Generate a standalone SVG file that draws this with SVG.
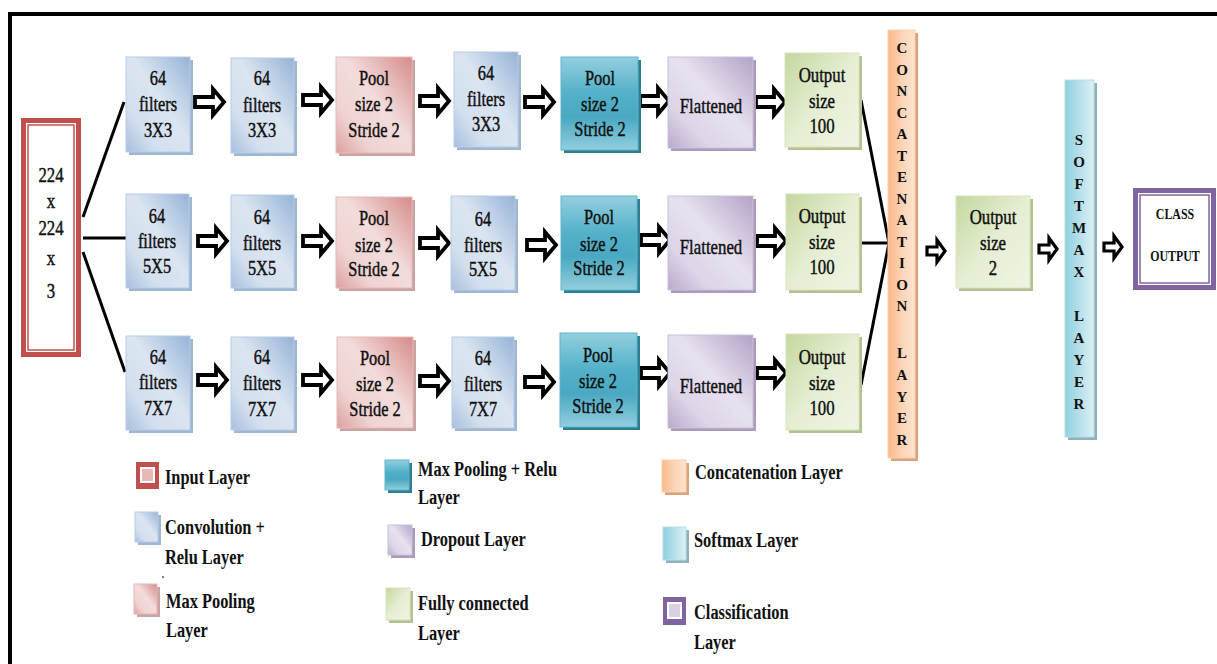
<svg xmlns="http://www.w3.org/2000/svg" xmlns:xlink="http://www.w3.org/1999/xlink" width="1217" height="664" viewBox="0 0 1217 664">
  <style>
    .t { font-family: "Liberation Serif", "Times New Roman", serif; font-size: 21px; fill: #111; stroke: #111; stroke-width: 0.45px; text-anchor: middle; }
    .v { font-family: "Liberation Serif", "Times New Roman", serif; font-size: 15px; font-weight: bold; fill: #111; text-anchor: middle; }
    .c { font-family: "Liberation Serif", "Times New Roman", serif; font-size: 14px; font-weight: bold; fill: #111; text-anchor: middle; }
    .lg { font-family: "Liberation Serif", "Times New Roman", serif; font-size: 20px; font-weight: bold; fill: #111; }
    .arr { fill: #fff; stroke: #000; stroke-width: 3.8; stroke-linejoin: miter; }
    .arrs { fill: #fff; stroke: #000; stroke-width: 3.2; stroke-linejoin: miter; }
    .wire { stroke: #000; stroke-width: 3; fill: none; }
    .conv { fill: url(#gConv); stroke: #b8cce4; stroke-width: 1; }
    .pool { fill: url(#gPool); stroke: #e6b9b8; stroke-width: 1; }
    .teal { fill: url(#gTeal); stroke: #5fb6cc; stroke-width: 1; }
    .drop { fill: url(#gDrop); stroke: #ccc0da; stroke-width: 1; }
    .fc { fill: url(#gFc); stroke: #d7e4bd; stroke-width: 1; }
    .cat { fill: url(#gCat); stroke: #fbd0ad; stroke-width: 1; }
    .soft { fill: url(#gSoft); stroke: #b7dde8; stroke-width: 1; }
    .sh-conv { fill: #9fb5d2; }
    .sh-pool { fill: #c9a3a2; }
    .sh-teal { fill: #2e7d93; }
    .sh-drop { fill: #a99bb9; }
    .sh-fc { fill: #b3c192; }
    .sh-cat { fill: #d9a47c; }
    .sh-soft { fill: #8fb3bd; }
  </style>
  <defs>
    <linearGradient id="gConv" x1="1" y1="0" x2="0" y2="1">
      <stop offset="0" stop-color="#95b3d7"/>
      <stop offset="0.45" stop-color="#dbe5f1"/>
      <stop offset="0.75" stop-color="#d3dfee"/>
      <stop offset="1" stop-color="#a7bfde"/>
    </linearGradient>
    <linearGradient id="gPool" x1="1" y1="0" x2="0" y2="1">
      <stop offset="0" stop-color="#d58b89"/>
      <stop offset="0.45" stop-color="#f2dcdb"/>
      <stop offset="0.75" stop-color="#efd3d2"/>
      <stop offset="1" stop-color="#dba09f"/>
    </linearGradient>
    <linearGradient id="gTeal" x1="0" y1="0" x2="0" y2="1">
      <stop offset="0" stop-color="#93cfdf"/>
      <stop offset="0.4" stop-color="#52b0c8"/>
      <stop offset="0.65" stop-color="#4aa9c2"/>
      <stop offset="1" stop-color="#92cedd"/>
    </linearGradient>
    <linearGradient id="gDrop" x1="1" y1="0" x2="0" y2="1">
      <stop offset="0" stop-color="#b3a2c7"/>
      <stop offset="0.45" stop-color="#e7e1ef"/>
      <stop offset="0.75" stop-color="#ddd5e8"/>
      <stop offset="1" stop-color="#b9a9cc"/>
    </linearGradient>
    <linearGradient id="gFc" x1="0" y1="0" x2="1" y2="1">
      <stop offset="0" stop-color="#c4d79e"/>
      <stop offset="0.5" stop-color="#e5eed3"/>
      <stop offset="1" stop-color="#eef4e3"/>
    </linearGradient>
    <linearGradient id="gCat" x1="0" y1="0" x2="1" y2="0">
      <stop offset="0" stop-color="#f9b98a"/>
      <stop offset="0.55" stop-color="#fcd6b8"/>
      <stop offset="1" stop-color="#fde3cf"/>
    </linearGradient>
    <linearGradient id="gSoft" x1="0" y1="0" x2="1" y2="0">
      <stop offset="0" stop-color="#8fcfdf"/>
      <stop offset="1" stop-color="#ddf0f5"/>
    </linearGradient>
    <path id="arr" class="arr" d="M2,-5 H20 V-13 L31,0 L20,13 V5 H2 Z"/>
    <path id="arrs" class="arrs" d="M2,-4 H12 V-11 L20,0 L12,11 V4 H2 Z"/>
  </defs>

  <rect width="1217" height="664" fill="#fff"/>

  <!-- outer frame -->
  <g id="frame" stroke="#000" stroke-width="4">
    <line x1="8" y1="14" x2="1217" y2="14"/>
    <line x1="10" y1="12" x2="10" y2="664"/>
  </g>

  <!-- connectors: fan-out wires, fan-in wires and block arrows -->
  <g id="connectors">
    <line class="wire" x1="83" y1="217" x2="124" y2="102"/>
    <line class="wire" x1="83" y1="238" x2="126" y2="238" stroke-width="4"/>
    <line class="wire" x1="83" y1="252" x2="125" y2="372"/>
    <line class="wire" x1="861" y1="100" x2="889" y2="243"/>
    <line class="wire" x1="859" y1="243" x2="889" y2="243" stroke-width="4"/>
    <line class="wire" x1="861" y1="385" x2="889" y2="243"/>

    <use href="#arr" transform="translate(193 102)"/>
    <use href="#arr" transform="translate(301 100)"/>
    <use href="#arr" transform="translate(418 101)"/>
    <use href="#arr" transform="translate(523 102)"/>
    <use href="#arr" transform="translate(638 101)"/>
    <use href="#arr" transform="translate(754 102)"/>

    <use href="#arr" transform="translate(196 241)"/>
    <use href="#arr" transform="translate(301 241)"/>
    <use href="#arr" transform="translate(418 243)"/>
    <use href="#arr" transform="translate(525 245)"/>
    <use href="#arr" transform="translate(639 240)"/>
    <use href="#arr" transform="translate(755 241)"/>

    <use href="#arr" transform="translate(196 380)"/>
    <use href="#arr" transform="translate(301 380)"/>
    <use href="#arr" transform="translate(418 381)"/>
    <use href="#arr" transform="translate(523 382)"/>
    <use href="#arr" transform="translate(639 373)"/>
    <use href="#arr" transform="translate(755 373)"/>

    <use href="#arrs" transform="translate(925 251)"/>
    <use href="#arrs" transform="translate(1037 249)"/>
    <use href="#arrs" transform="translate(1102 247)"/>
  </g>

  <!-- input layer -->
  <g id="input">
    <rect x="21" y="118" width="60" height="239" fill="#c0504d"/>
    <rect x="26" y="123" width="50" height="229" fill="#fff"/>
    <rect x="28" y="125" width="46" height="225" fill="#fff" stroke="#c0504d" stroke-width="1.5"/>
    <text class="t" transform="translate(51 182) scale(.8 1)">224</text>
    <text class="t" transform="translate(51 208) scale(.8 1)">x</text>
    <text class="t" transform="translate(51 235) scale(.8 1)">224</text>
    <text class="t" transform="translate(51 265) scale(.8 1)">x</text>
    <text class="t" transform="translate(51 298) scale(.8 1)">3</text>
  </g>

  <!-- branch 1: 3x3 -->
  <g id="conv1a">
    <rect class="sh-conv" x="129" y="60" width="64" height="95"/>
    <rect class="conv" x="126" y="57" width="64" height="95"/>
    <text class="t" transform="translate(158 85) scale(.78 1)">64</text>
    <text class="t" transform="translate(158 111) scale(.78 1)">filters</text>
    <text class="t" transform="translate(158 137) scale(.78 1)">3X3</text>
  </g>
  <g id="conv1b">
    <rect class="sh-conv" x="234" y="61" width="63" height="95"/>
    <rect class="conv" x="231" y="58" width="63" height="95"/>
    <text class="t" transform="translate(262 85) scale(.78 1)">64</text>
    <text class="t" transform="translate(262 112) scale(.78 1)">filters</text>
    <text class="t" transform="translate(262 137) scale(.78 1)">3X3</text>
  </g>
  <g id="pool1">
    <rect class="sh-pool" x="339" y="60" width="76" height="96"/>
    <rect class="pool" x="336" y="57" width="76" height="96"/>
    <text class="t" transform="translate(374 85) scale(.78 1)">Pool</text>
    <text class="t" transform="translate(374 111) scale(.78 1)">size 2</text>
    <text class="t" transform="translate(374 137) scale(.78 1)">Stride 2</text>
  </g>
  <g id="conv1c">
    <rect class="sh-conv" x="457" y="55" width="64" height="95"/>
    <rect class="conv" x="454" y="52" width="64" height="95"/>
    <text class="t" transform="translate(486 80) scale(.78 1)">64</text>
    <text class="t" transform="translate(486 106) scale(.78 1)">filters</text>
    <text class="t" transform="translate(486 131) scale(.78 1)">3X3</text>
  </g>
  <g id="relupool1">
    <rect class="sh-teal" x="564" y="60" width="77" height="93"/>
    <rect class="teal" x="561" y="57" width="77" height="93"/>
    <text class="t" transform="translate(600 85) scale(.78 1)">Pool</text>
    <text class="t" transform="translate(600 111) scale(.78 1)">size 2</text>
    <text class="t" transform="translate(600 136) scale(.78 1)">Stride 2</text>
  </g>
  <g id="flat1">
    <rect class="sh-drop" x="671" y="60" width="85" height="91"/>
    <rect class="drop" x="668" y="57" width="85" height="91"/>
    <text class="t" transform="translate(711 113) scale(.8 1)">Flattened</text>
  </g>
  <g id="fc1">
    <rect class="sh-fc" x="788" y="56" width="74" height="94"/>
    <rect class="fc" x="785" y="53" width="74" height="94"/>
    <text class="t" transform="translate(822 82) scale(.8 1)">Output</text>
    <text class="t" transform="translate(822 108) scale(.8 1)">size</text>
    <text class="t" transform="translate(822 133) scale(.8 1)">100</text>
  </g>

  <!-- branch 2: 5x5 -->
  <g id="conv2a">
    <rect class="sh-conv" x="129" y="197" width="63" height="94"/>
    <rect class="conv" x="126" y="194" width="63" height="94"/>
    <text class="t" transform="translate(157 223) scale(.78 1)">64</text>
    <text class="t" transform="translate(157 248) scale(.78 1)">filters</text>
    <text class="t" transform="translate(157 273) scale(.78 1)">5X5</text>
  </g>
  <g id="conv2b">
    <rect class="sh-conv" x="234" y="198" width="63" height="93"/>
    <rect class="conv" x="231" y="195" width="63" height="93"/>
    <text class="t" transform="translate(262 224) scale(.78 1)">64</text>
    <text class="t" transform="translate(262 250) scale(.78 1)">filters</text>
    <text class="t" transform="translate(262 275) scale(.78 1)">5X5</text>
  </g>
  <g id="pool2">
    <rect class="sh-pool" x="339" y="200" width="76" height="91"/>
    <rect class="pool" x="336" y="197" width="76" height="91"/>
    <text class="t" transform="translate(374 225) scale(.78 1)">Pool</text>
    <text class="t" transform="translate(374 252) scale(.78 1)">size 2</text>
    <text class="t" transform="translate(374 276) scale(.78 1)">Stride 2</text>
  </g>
  <g id="conv2c">
    <rect class="sh-conv" x="454" y="199" width="64" height="94"/>
    <rect class="conv" x="451" y="196" width="64" height="94"/>
    <text class="t" transform="translate(483 226) scale(.78 1)">64</text>
    <text class="t" transform="translate(483 252) scale(.78 1)">filters</text>
    <text class="t" transform="translate(483 276) scale(.78 1)">5X5</text>
  </g>
  <g id="relupool2">
    <rect class="sh-teal" x="564" y="199" width="76" height="94"/>
    <rect class="teal" x="561" y="196" width="76" height="94"/>
    <text class="t" transform="translate(599 224) scale(.78 1)">Pool</text>
    <text class="t" transform="translate(599 251) scale(.78 1)">size 2</text>
    <text class="t" transform="translate(599 275) scale(.78 1)">Stride 2</text>
  </g>
  <g id="flat2">
    <rect class="sh-drop" x="671" y="199" width="85" height="94"/>
    <rect class="drop" x="668" y="196" width="85" height="94"/>
    <text class="t" transform="translate(711 254) scale(.8 1)">Flattened</text>
  </g>
  <g id="fc2">
    <rect class="sh-fc" x="789" y="197" width="73" height="96"/>
    <rect class="fc" x="786" y="194" width="73" height="96"/>
    <text class="t" transform="translate(822 223) scale(.8 1)">Output</text>
    <text class="t" transform="translate(822 249) scale(.8 1)">size</text>
    <text class="t" transform="translate(822 274) scale(.8 1)">100</text>
  </g>

  <!-- branch 3: 7x7 -->
  <g id="conv3a">
    <rect class="sh-conv" x="129" y="339" width="64" height="94"/>
    <rect class="conv" x="126" y="336" width="64" height="94"/>
    <text class="t" transform="translate(158 364) scale(.78 1)">64</text>
    <text class="t" transform="translate(158 389) scale(.78 1)">filters</text>
    <text class="t" transform="translate(158 415) scale(.78 1)">7X7</text>
  </g>
  <g id="conv3b">
    <rect class="sh-conv" x="234" y="340" width="63" height="93"/>
    <rect class="conv" x="231" y="337" width="63" height="93"/>
    <text class="t" transform="translate(262 364) scale(.78 1)">64</text>
    <text class="t" transform="translate(262 390) scale(.78 1)">filters</text>
    <text class="t" transform="translate(262 416) scale(.78 1)">7X7</text>
  </g>
  <g id="pool3">
    <rect class="sh-pool" x="340" y="340" width="76" height="91"/>
    <rect class="pool" x="337" y="337" width="76" height="91"/>
    <text class="t" transform="translate(375 365) scale(.78 1)">Pool</text>
    <text class="t" transform="translate(375 391) scale(.78 1)">size 2</text>
    <text class="t" transform="translate(375 416) scale(.78 1)">Stride 2</text>
  </g>
  <g id="conv3c">
    <rect class="sh-conv" x="455" y="340" width="62" height="91"/>
    <rect class="conv" x="452" y="337" width="62" height="91"/>
    <text class="t" transform="translate(483 365) scale(.78 1)">64</text>
    <text class="t" transform="translate(483 391) scale(.78 1)">filters</text>
    <text class="t" transform="translate(483 416) scale(.78 1)">7X7</text>
  </g>
  <g id="relupool3">
    <rect class="sh-teal" x="563" y="336" width="77" height="94"/>
    <rect class="teal" x="560" y="333" width="77" height="94"/>
    <text class="t" transform="translate(598 362) scale(.78 1)">Pool</text>
    <text class="t" transform="translate(598 388) scale(.78 1)">size 2</text>
    <text class="t" transform="translate(598 413) scale(.78 1)">Stride 2</text>
  </g>
  <g id="flat3">
    <rect class="sh-drop" x="671" y="338" width="85" height="93"/>
    <rect class="drop" x="668" y="335" width="85" height="93"/>
    <text class="t" transform="translate(711 393) scale(.8 1)">Flattened</text>
  </g>
  <g id="fc3">
    <rect class="sh-fc" x="789" y="337" width="73" height="96"/>
    <rect class="fc" x="786" y="334" width="73" height="96"/>
    <text class="t" transform="translate(822 364) scale(.8 1)">Output</text>
    <text class="t" transform="translate(822 390) scale(.8 1)">size</text>
    <text class="t" transform="translate(822 415) scale(.8 1)">100</text>
  </g>

  <!-- concatenation layer -->
  <g id="concat">
    <rect class="sh-cat" x="891" y="33" width="27" height="428"/>
    <rect class="cat" x="888" y="30" width="27" height="428"/>
    <g transform="translate(902 0)">
      <text class="v" y="53">C</text>
      <text class="v" y="74.5">O</text>
      <text class="v" y="96">N</text>
      <text class="v" y="117.5">C</text>
      <text class="v" y="139">A</text>
      <text class="v" y="160.5">T</text>
      <text class="v" y="182">E</text>
      <text class="v" y="203.5">N</text>
      <text class="v" y="225">A</text>
      <text class="v" y="246.5">T</text>
      <text class="v" y="268">I</text>
      <text class="v" y="289.5">O</text>
      <text class="v" y="311">N</text>
      <text class="v" y="358">L</text>
      <text class="v" y="380">A</text>
      <text class="v" y="402">Y</text>
      <text class="v" y="423">E</text>
      <text class="v" y="445">R</text>
    </g>
  </g>

  <!-- final fully connected layer -->
  <g id="fc-out">
    <rect class="sh-fc" x="959" y="199" width="74" height="92"/>
    <rect class="fc" x="956" y="196" width="74" height="92"/>
    <text class="t" transform="translate(993 224) scale(.8 1)">Output</text>
    <text class="t" transform="translate(993 250) scale(.8 1)">size</text>
    <text class="t" transform="translate(993 275) scale(.8 1)">2</text>
  </g>

  <!-- softmax layer -->
  <g id="softmax">
    <rect class="sh-soft" x="1068" y="83" width="29" height="357"/>
    <rect class="soft" x="1065" y="80" width="29" height="357"/>
    <g transform="translate(1079 0)">
      <text class="v" y="145">S</text>
      <text class="v" y="167">O</text>
      <text class="v" y="189">F</text>
      <text class="v" y="211">T</text>
      <text class="v" y="233">M</text>
      <text class="v" y="255">A</text>
      <text class="v" y="277">X</text>
      <text class="v" y="321">L</text>
      <text class="v" y="343">A</text>
      <text class="v" y="365">Y</text>
      <text class="v" y="387">E</text>
      <text class="v" y="409">R</text>
    </g>
  </g>

  <!-- classification output -->
  <g id="class-output">
    <rect x="1133" y="188" width="83" height="102" fill="#8064a2"/>
    <rect x="1138" y="193" width="73" height="92" fill="#fff"/>
    <rect x="1140" y="195" width="69" height="88" fill="#fff" stroke="#8064a2" stroke-width="1.5"/>
    <text class="c" transform="translate(1175 219) scale(.85 1)">CLASS</text>
    <text class="c" transform="translate(1175 261) scale(.85 1)">OUTPUT</text>
  </g>

  <!-- legend -->
  <g id="legend">
    <g id="lg-input">
      <rect x="136" y="462" width="23" height="27" fill="#c0504d"/>
      <rect x="141" y="468" width="13" height="14" fill="#e9b7b6" stroke="#fff" stroke-width="2"/>
      <text class="lg" transform="translate(165 484) scale(.82 1)">Input Layer</text>
    </g>
    <g id="lg-conv">
      <rect class="sh-conv" x="138" y="515" width="23" height="30"/>
      <rect class="conv" x="135" y="512" width="23" height="30"/>
      <text class="lg" transform="translate(165 534) scale(.82 1)">Convolution +</text>
      <text class="lg" transform="translate(165 564) scale(.82 1)">Relu Layer</text>
    </g>
    <circle cx="163" cy="577" r="0.9" fill="#444"/>
    <g id="lg-pool">
      <rect class="sh-pool" x="137" y="587" width="23" height="30"/>
      <rect class="pool" x="134" y="584" width="23" height="30"/>
      <text class="lg" transform="translate(166 608) scale(.82 1)">Max Pooling</text>
      <text class="lg" transform="translate(166 637) scale(.82 1)">Layer</text>
    </g>
    <g id="lg-relupool">
      <rect class="sh-teal" x="388" y="463" width="24" height="30"/>
      <rect class="teal" x="385" y="460" width="24" height="30"/>
      <text class="lg" transform="translate(418 476) scale(.82 1)">Max Pooling + Relu</text>
      <text class="lg" transform="translate(418 504) scale(.82 1)">Layer</text>
    </g>
    <g id="lg-drop">
      <rect class="sh-drop" x="391" y="528" width="24" height="30"/>
      <rect class="drop" x="388" y="525" width="24" height="30"/>
      <text class="lg" transform="translate(421 546) scale(.82 1)">Dropout Layer</text>
    </g>
    <g id="lg-fc">
      <rect class="sh-fc" x="389" y="591" width="24" height="32"/>
      <rect class="fc" x="386" y="588" width="24" height="32"/>
      <text class="lg" transform="translate(418 610) scale(.82 1)">Fully connected</text>
      <text class="lg" transform="translate(418 640) scale(.82 1)">Layer</text>
    </g>
    <g id="lg-concat">
      <rect class="sh-cat" x="665" y="463" width="24" height="32"/>
      <rect class="cat" x="662" y="460" width="24" height="32"/>
      <text class="lg" transform="translate(695 479) scale(.82 1)">Concatenation Layer</text>
    </g>
    <g id="lg-softmax">
      <rect class="sh-soft" x="666" y="530" width="23" height="33"/>
      <rect class="soft" x="663" y="527" width="23" height="33"/>
      <text class="lg" transform="translate(694 547) scale(.82 1)">Softmax Layer</text>
    </g>
    <g id="lg-class">
      <rect x="663" y="597" width="23" height="28" fill="#8064a2"/>
      <rect x="668" y="603" width="13" height="15" fill="#d9d0e6" stroke="#fff" stroke-width="2"/>
      <text class="lg" transform="translate(694 619) scale(.82 1)">Classification</text>
      <text class="lg" transform="translate(694 649) scale(.82 1)">Layer</text>
    </g>
  </g>
</svg>
